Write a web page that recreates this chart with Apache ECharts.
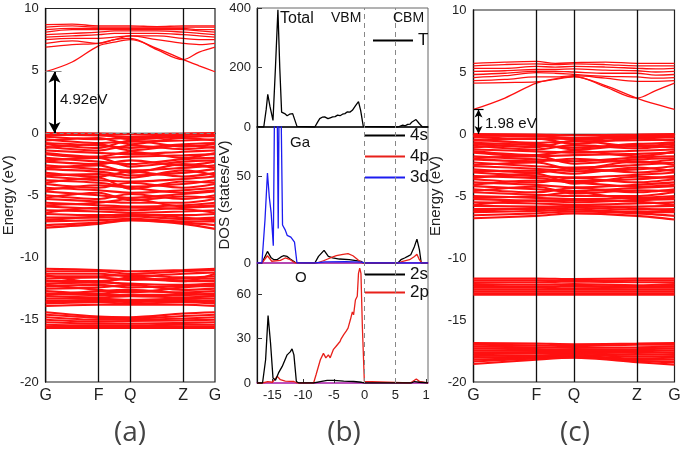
<!DOCTYPE html>
<html>
<head>
<meta charset="utf-8">
<script src="https://cdn.jsdelivr.net/npm/echarts@6/dist/echarts.min.js"></script>
<style>html,body{margin:0;padding:0;background:#fff}#chart{width:685px;height:452px}</style>
</head>
<body>
<div id="chart"></div>
<script>
// k path
const kNames = ['G', 'F', 'Q', 'Z', 'G'];
const kPos = [0, 1, 1.6, 2.6, 3.2];
const kFine = [0, 0.5, 1, 1.3, 1.6, 2.1, 2.6, 2.9, 3.2];

// (a) conduction bands, values at kFine
const cbA = [
  [4.92, 5.7, 7.0, 7.3, 7.5, 6.8, 5.9, 5.4, 4.92],
  [6.9, 7.1, 7.2, 7.5, 7.6, 6.7, 5.9, 6.5, 6.9],
  [7.2, 7.4, 7.2, 7.5, 7.8, 7.5, 7.2, 7.1, 7.2],
  [7.5, 7.6, 7.6, 7.7, 7.8, 7.8, 7.6, 7.5, 7.5],
  [7.7, 7.8, 7.9, 8.0, 8.0, 8.0, 7.9, 7.8, 7.7],
  [7.9, 8.0, 8.1, 8.2, 8.2, 8.2, 8.1, 8.0, 7.9],
  [8.1, 8.3, 8.3, 8.3, 8.3, 8.3, 8.3, 8.2, 8.1],
  [8.3, 8.4, 8.4, 8.4, 8.4, 8.4, 8.4, 8.3, 8.3],
  [8.5, 8.6, 8.5, 8.5, 8.5, 8.5, 8.5, 8.5, 8.5],
  [8.7, 8.75, 8.6, 8.6, 8.6, 8.55, 8.6, 8.6, 8.6]
];
// (a) valence bands, values at kPos
const vbA = [
  [0, -0.05, -0.1, -0.05, 0], [-0.1, -0.2, -0.3, -0.15, -0.1], [-0.3, -0.5, -0.4, -0.3, -0.25],
  [-0.5, -0.8, -0.7, -0.6, -0.5], [-0.8, -1.0, -1.2, -0.9, -0.8], [-1.1, -1.4, -1.0, -1.3, -1.1],
  [-1.4, -1.6, -1.7, -1.5, -1.4], [-1.7, -2.0, -1.9, -1.8, -1.7], [-2.0, -2.3, -2.5, -2.1, -2.0],
  [-2.3, -2.5, -2.2, -2.6, -2.3], [-2.6, -2.9, -3.0, -2.8, -2.6], [-2.9, -3.1, -3.4, -3.2, -2.9],
  [-3.2, -3.5, -3.1, -3.5, -3.2], [-3.5, -3.8, -3.9, -3.7, -3.5], [-3.8, -4.0, -4.3, -4.1, -3.8],
  [-4.1, -4.4, -4.0, -4.4, -4.1], [-4.4, -4.6, -4.8, -4.6, -4.4], [-4.7, -5.0, -5.2, -4.9, -4.7],
  [-5.0, -5.3, -4.9, -5.3, -5.0], [-5.3, -5.5, -5.6, -5.6, -5.3], [-5.6, -5.8, -5.9, -5.8, -5.6],
  [-5.9, -6.1, -6.2, -6.0, -5.9], [-6.2, -6.3, -6.4, -6.3, -6.2], [-6.5, -6.6, -6.6, -6.6, -6.5],
  [-6.8, -6.8, -6.7, -6.9, -6.8], [-7.1, -7.0, -6.9, -7.1, -7.1], [-7.4, -7.2, -7.0, -7.2, -7.4],
  [-7.6, -7.3, -7.0, -7.3, -7.7],
  [-0.2, -0.1, -0.5, -0.3, -0.2], [-0.6, -0.4, -0.9, -0.4, -0.6], [-0.9, -1.2, -0.6, -1.1, -0.9],
  [-1.2, -0.9, -1.4, -1.0, -1.2], [-1.6, -1.9, -1.5, -2.0, -1.6], [-2.2, -2.0, -2.7, -2.3, -2.2],
  [-2.8, -2.6, -3.2, -2.5, -2.8], [-3.4, -3.3, -3.6, -3.0, -3.4], [-4.0, -3.6, -4.5, -3.9, -4.0],
  [-4.6, -4.2, -4.4, -4.8, -4.6], [-5.2, -4.8, -5.4, -5.1, -5.2], [-5.8, -5.6, -5.3, -5.9, -5.8],
  [-6.4, -6.0, -6.0, -6.1, -6.4], [-7.0, -6.7, -6.5, -6.8, -7.0],
  // Ga 3d / O 2s region
  [-10.9, -11.0, -11.1, -11.0, -10.9], [-11.1, -11.1, -11.3, -11.1, -11.0], [-11.3, -11.3, -11.5, -11.3, -11.2],
  [-11.5, -11.5, -11.4, -11.6, -11.5], [-11.7, -11.6, -11.8, -11.7, -11.7], [-11.9, -11.9, -11.7, -11.9, -11.9],
  [-12.1, -12.0, -12.1, -12.2, -12.1], [-12.3, -12.2, -12.4, -12.3, -12.3], [-12.5, -12.4, -12.2, -12.6, -12.5],
  [-12.7, -12.9, -12.7, -12.8, -12.7], [-12.9, -13.0, -13.0, -13.0, -12.9], [-13.1, -13.2, -13.1, -13.2, -13.1],
  [-13.3, -13.3, -13.4, -13.3, -13.3], [-13.5, -13.5, -13.5, -13.5, -13.5], [-13.7, -13.6, -13.7, -13.6, -13.7],
  [-13.9, -13.8, -13.8, -13.8, -13.9], [-11.4, -12.0, -11.6, -11.9, -11.3], [-12.2, -12.6, -12.8, -12.4, -12.2],
  [-13.0, -12.7, -12.6, -12.9, -13.0], [-13.6, -13.4, -13.6, -13.4, -13.6],
  [-14.4, -14.75, -14.8, -14.5, -14.4], [-14.6, -14.85, -14.9, -14.7, -14.6], [-14.8, -15.0, -15.0, -14.9, -14.8],
  [-15.0, -15.15, -15.1, -15.05, -15.0], [-15.2, -15.3, -15.3, -15.25, -15.2], [-15.4, -15.45, -15.45, -15.4, -15.4],
  [-15.55, -15.55, -15.55, -15.55, -15.55], [-15.65, -15.65, -15.65, -15.65, -15.65]
];

// (c) conduction bands, values at kFine
const cbC = [
  [1.98, 2.9, 4.1, 4.4, 4.6, 3.9, 2.9, 2.4, 1.98],
  [4.1, 4.15, 4.2, 4.45, 4.65, 3.8, 2.9, 3.5, 4.1],
  [4.3, 4.4, 4.6, 4.6, 4.7, 4.5, 4.25, 4.25, 4.3],
  [4.55, 4.7, 4.95, 4.9, 4.8, 4.65, 4.6, 4.5, 4.55],
  [4.8, 4.9, 5.05, 5.05, 5.0, 4.9, 4.9, 4.75, 4.8],
  [5.05, 5.1, 5.2, 5.2, 5.25, 5.15, 5.1, 5.0, 5.05],
  [5.3, 5.3, 5.45, 5.4, 5.45, 5.4, 5.3, 5.25, 5.3],
  [5.5, 5.6, 5.65, 5.6, 5.65, 5.6, 5.5, 5.5, 5.5],
  [5.7, 5.8, 5.85, 5.7, 5.75, 5.8, 5.7, 5.7, 5.7]
];
// (c) valence bands, values at kPos
const vbC = [
  [0, -0.05, -0.1, -0.05, 0], [-0.1, -0.2, -0.3, -0.15, -0.1], [-0.25, -0.4, -0.35, -0.3, -0.25],
  [-0.45, -0.7, -0.6, -0.5, -0.45], [-0.7, -0.9, -1.1, -0.8, -0.7], [-0.95, -1.25, -0.9, -1.15, -0.95],
  [-1.25, -1.4, -1.5, -1.35, -1.25], [-1.5, -1.8, -1.7, -1.6, -1.5], [-1.8, -2.05, -2.2, -1.9, -1.8],
  [-2.05, -2.2, -2.0, -2.3, -2.05], [-2.3, -2.6, -2.7, -2.5, -2.3], [-2.6, -2.8, -3.0, -2.85, -2.6],
  [-2.85, -3.1, -2.75, -3.1, -2.85], [-3.1, -3.4, -3.5, -3.3, -3.1], [-3.4, -3.55, -3.8, -3.65, -3.4],
  [-3.65, -3.9, -3.55, -3.9, -3.65], [-3.9, -4.1, -4.3, -4.1, -3.9], [-4.2, -4.45, -4.6, -4.35, -4.2],
  [-4.45, -4.7, -4.35, -4.7, -4.45], [-4.7, -4.9, -5.0, -5.0, -4.7], [-5.0, -5.15, -5.25, -5.15, -5.0],
  [-5.25, -5.4, -5.5, -5.35, -5.25], [-5.5, -5.6, -5.7, -5.6, -5.5], [-5.8, -5.85, -5.85, -5.85, -5.8],
  [-6.05, -6.05, -5.95, -6.1, -6.05], [-6.3, -6.2, -6.1, -6.3, -6.3], [-6.55, -6.4, -6.25, -6.4, -6.6],
  [-6.8, -6.6, -6.4, -6.6, -6.9],
  [-0.15, -0.1, -0.45, -0.25, -0.15], [-0.55, -0.35, -0.8, -0.35, -0.55], [-0.8, -1.05, -0.55, -1.0, -0.8],
  [-1.1, -0.8, -1.25, -0.9, -1.1], [-1.4, -1.7, -1.35, -1.8, -1.4], [-1.95, -1.8, -2.4, -2.05, -1.95],
  [-2.5, -2.3, -2.85, -2.2, -2.5], [-3.0, -2.95, -3.2, -2.7, -3.0], [-3.55, -3.2, -4.0, -3.45, -3.55],
  [-4.1, -3.75, -3.9, -4.25, -4.1], [-4.6, -4.25, -4.8, -4.55, -4.6], [-5.15, -5.0, -4.7, -5.25, -5.15],
  [-5.7, -5.35, -5.35, -5.45, -5.7], [-6.2, -5.95, -5.8, -6.0, -6.2],
  [-11.65, -11.65, -11.7, -11.65, -11.65], [-11.8, -11.8, -11.85, -11.8, -11.8], [-11.95, -11.95, -11.9, -11.95, -11.95],
  [-12.1, -12.15, -12.1, -12.2, -12.1], [-12.25, -12.3, -12.25, -12.3, -12.25], [-12.4, -12.4, -12.45, -12.4, -12.4],
  [-12.55, -12.55, -12.55, -12.55, -12.55], [-12.7, -12.7, -12.7, -12.7, -12.7], [-12.85, -12.85, -12.85, -12.85, -12.85],
  [-12.95, -12.95, -12.95, -12.95, -12.95],
  [-16.85, -16.9, -16.95, -16.9, -16.85], [-17.0, -17.05, -17.1, -17.0, -17.0], [-17.15, -17.2, -17.25, -17.2, -17.15],
  [-17.3, -17.35, -17.4, -17.35, -17.3], [-17.45, -17.5, -17.5, -17.5, -17.45], [-17.6, -17.6, -17.6, -17.65, -17.6],
  [-17.75, -17.7, -17.7, -17.8, -17.75], [-17.9, -17.85, -17.8, -17.95, -17.9], [-18.05, -17.95, -17.9, -18.1, -18.05],
  [-18.2, -18.05, -17.95, -18.2, -18.2], [-18.35, -18.1, -18.0, -18.3, -18.4], [-18.55, -18.2, -18.05, -18.4, -18.6]
];

const gapA = 4.92;
const gapC = 1.98;
const vbm = 0;
const cbm = 4.92;

// (b) DOS curves, [energy, states/eV]
const dosTotal = [[-17.5,0],[-16.4,0],[-16.0,60],[-15.75,110],[-15.4,70],[-14.9,22],[-14.5,200],[-14.1,394],[-13.8,200],[-13.5,50],[-13.0,45],[-12.6,38],[-12.2,43],[-11.9,40],[-11.7,45],[-11.4,42],[-11.0,2],[-8.1,0],[-7.6,18],[-7.3,28],[-6.9,33],[-6.5,34],[-5.96,28],[-5.6,31],[-5.2,34],[-4.8,35],[-4.4,40],[-4.0,38],[-3.6,43],[-3.2,45],[-2.8,51],[-2.4,50],[-2.0,56],[-1.7,62],[-1.45,73],[-1.0,85],[-0.65,56],[-0.22,2],[0,0],[5.4,0],[6.2,6],[6.6,4],[7.0,9],[7.4,10],[7.7,17],[8.35,25],[8.9,11],[9.4,0],[10.3,0]];
const dosGa4s = [[-17.5,0],[-16.7,0],[-15.8,6.7],[-15.2,3],[-14.8,2],[-14.2,2],[-13.6,3.5],[-13.2,4.2],[-12.6,3.8],[-12.1,2.3],[-11.3,0.4],[-11.0,0],[-8.1,0],[-7.5,3.8],[-6.6,7.3],[-5.9,3.8],[-5.2,2.9],[-4.1,2.3],[-2.5,1.9],[-0.6,1],[-0.2,0],[5.4,0],[5.9,1.9],[6.5,2.9],[7.0,3.8],[7.5,4.8],[8.1,9.6],[8.5,13.8],[8.9,7.7],[9.2,0],[10.3,0]];
const dosGa4p = [[-17.5,0],[-16.7,0],[-15.8,4.2],[-15.1,1],[-13.7,1.5],[-12.9,2.9],[-12.1,1.9],[-11.3,0],[-7.8,0],[-6.7,1.3],[-5.6,2.9],[-4.6,4.2],[-3.5,5],[-2.7,5.4],[-1.9,4.2],[-1.1,1.9],[-0.4,0],[5.4,0],[6.2,1],[7.3,1.9],[8.1,3.8],[8.5,5],[8.9,1.9],[9.3,0],[10.3,0]];
const dosGa3d = [[-17.5,0],[-16.7,0],[-16.2,25],[-15.8,52],[-15.5,38],[-15.2,29],[-14.85,10],[-14.55,130],[-14.3,125],[-14.05,20],[-13.8,150],[-13.55,150],[-13.35,22],[-12.9,19],[-12.6,16],[-12.3,17],[-12.0,15],[-11.7,16],[-11.4,12],[-11.0,0],[-8,0],[-6.5,0.6],[-3,0.8],[-0.5,0.5],[0,0],[10.3,0]];
const dosO2s = [[-17.5,0],[-16.6,0],[-16.1,15.7],[-15.7,45.5],[-15.3,27],[-14.9,3.4],[-14.5,1.8],[-14.0,6.8],[-13.4,11.2],[-12.6,19],[-12.1,21],[-11.8,23],[-11.5,19],[-11.1,1],[-10.7,0],[-8.3,0],[-7.2,1],[-6.1,1.8],[-5.0,1.8],[-3.4,1.3],[-1.8,1],[-0.5,0.5],[0,0],[7.6,0],[8.1,1],[8.4,1.8],[8.9,0.5],[9.2,0],[10.3,0]];
const dosO2p = [[-17.5,0],[-16.6,0],[-15.75,1],[-15.0,0.5],[-14.2,4.5],[-13.7,2.2],[-12.9,1.3],[-11.5,1],[-11.0,0],[-8.3,0],[-7.9,5.6],[-7.2,15.7],[-6.7,20],[-6.3,17],[-5.9,19],[-5.6,17],[-5.1,22.5],[-4.6,25],[-4.0,28],[-3.8,30],[-3.4,32.6],[-3.0,35],[-2.7,37],[-2.3,43],[-2.0,48],[-1.8,46],[-1.5,56],[-1.2,58.5],[-1.0,74],[-0.8,77.6],[-0.6,74],[-0.37,38],[-0.05,1],[0,0],[7.4,0],[7.8,1],[8.4,2.7],[8.9,1.1],[9.2,0],[10.3,0]];

const RED = '#ff1010';
const FONT = 'Liberation Sans';

function bandSeries(bands, ks, axis, smooth, width) {
  return bands.map(function (b) {
    return {
      type: 'line', xAxisIndex: axis, yAxisIndex: axis, silent: true, z: 2,
      symbol: 'none', smooth: smooth,
      lineStyle: { color: RED, width: width },
      data: b.map(function (e, i) { return [ks[i], e]; })
    };
  });
}

function dosSeries(name, data, color, axis) {
  return {
    name: name, type: 'line', xAxisIndex: axis, yAxisIndex: axis, z: 3,
    symbol: 'none', lineStyle: { color: color, width: 1.3 }, itemStyle: { color: color },
    data: data
  };
}

// vertical k-point lines
function kLines(axis) {
  return {
    type: 'line', xAxisIndex: axis, yAxisIndex: axis, data: [], z: 6, silent: true,
    markLine: {
      silent: true, symbol: ['none', 'none'], label: { show: false }, animation: false,
      lineStyle: { color: '#111', type: 'solid', width: 1.3 },
      data: kPos.slice(1, 4).map(function (k) { return { xAxis: k }; })
    }
  };
}

function edgeLines(axis) {
  return {
    type: 'line', xAxisIndex: axis, yAxisIndex: axis, data: [], z: 1, silent: true,
    markLine: {
      silent: true, symbol: ['none', 'none'], label: { show: false }, animation: false,
      lineStyle: { color: '#888', type: [5, 4], width: 1 },
      data: [{ xAxis: vbm }, { xAxis: cbm }]
    }
  };
}

function gapArrow(axis, x, gap, w, size) {
  return {
    type: 'line', xAxisIndex: axis, yAxisIndex: axis, data: [], z: 7, silent: true,
    markLine: {
      silent: true, label: { show: false }, animation: false,
      symbol: ['arrow', 'arrow'], symbolSize: size,
      lineStyle: { color: '#000', type: 'solid', width: w },
      data: [[{ coord: [x, 0] }, { coord: [x, gap] }]]
    }
  };
}

const axText = { fontFamily: FONT, fontSize: 13, color: '#222' };

function bandX(axis) {
  return {
    type: 'value', gridIndex: axis, min: 0, max: 3.2,
    axisLine: { show: true, lineStyle: { color: '#111', width: 1.3 } },
    axisTick: { show: false }, splitLine: { show: false },
    axisLabel: Object.assign({}, axText, {
      fontSize: 16, margin: 6, customValues: kPos,
      formatter: function (v) { return kNames[kPos.indexOf(v)]; }
    })
  };
}
function bandY(axis, gap) {
  return {
    type: 'value', gridIndex: axis, min: -20, max: 10, interval: 5,
    name: 'Energy (eV)', nameLocation: 'middle', nameGap: gap,
    nameTextStyle: { fontFamily: FONT, fontSize: 15, color: '#222' },
    axisLine: { show: true, lineStyle: { color: '#111', width: 1.3 } },
    axisTick: { show: false }, splitLine: { show: false },
    axisLabel: Object.assign({}, axText, { margin: 7 })
  };
}
function dosX(axis, labels, lineColor) {
  return {
    type: 'value', gridIndex: axis, min: -17.5, max: 10.3,
    axisLine: { show: true, onZero: false, lineStyle: { color: lineColor, width: 1.5 } },
    axisTick: { show: labels, inside: true, length: 4, customValues: [-15, -10, -5, 0, 5, 10], lineStyle: { color: '#333' } },
    splitLine: { show: false },
    axisLabel: Object.assign({}, axText, {
      show: labels, margin: 6, customValues: [-15, -10, -5, 0, 5, 10],
      formatter: function (v) { return v === 10 ? '1' : String(v); }
    })
  };
}
function dosY(axis, max, ticks, name) {
  const y = {
    type: 'value', gridIndex: axis, min: 0, max: max,
    axisLine: { show: true, onZero: false, lineStyle: { color: '#111', width: 1.2 } },
    axisTick: { show: true, inside: true, length: 5, customValues: ticks, lineStyle: { color: '#333' } },
    splitLine: { show: false },
    axisLabel: Object.assign({}, axText, { margin: 6, customValues: ticks })
  };
  if (name) {
    y.name = name; y.nameLocation = 'middle'; y.nameGap = 24;
    y.nameTextStyle = { fontFamily: FONT, fontSize: 15, color: '#222' };
  }
  return y;
}

let series = [];
series = series.concat(bandSeries(cbA, kFine, 0, 0.35, 1.3));
series = series.concat(bandSeries(vbA, kPos, 0, 0.3, 2.1));
series.push(kLines(0));
series.push(gapArrow(0, 0.167, gapA, 2, [9, 11]));
series.push({
  type: 'line', xAxisIndex: 0, yAxisIndex: 0, data: [], z: 6, silent: true,
  markLine: {
    silent: true, symbol: ['none', 'none'], label: { show: false }, animation: false,
    data: [
      [{ coord: [0, gapA], lineStyle: { color: '#888', type: 'solid', width: 1 } }, { coord: [0.3, gapA] }],
      [{ coord: [0, 0], lineStyle: { color: '#888', type: [4, 3], width: 1 } }, { coord: [3.2, 0] }]
    ]
  }
});

series.push(dosSeries('T', dosTotal, '#000', 1));
series.push(edgeLines(1));
series.push(dosSeries('4s', dosGa4s, '#000', 2));
series.push(dosSeries('4p', dosGa4p, '#e8201a', 2));
series.push(dosSeries('3d', dosGa3d, '#1c1cf0', 2));
series.push(edgeLines(2));
series.push(dosSeries('2p', dosO2p, '#e8201a', 3));
series.push(dosSeries('2s', dosO2s, '#000', 3));
series.push(edgeLines(3));

series = series.concat(bandSeries(cbC, kFine, 4, 0.35, 1.3));
series = series.concat(bandSeries(vbC, kPos, 4, 0.3, 2.1));
series.push(kLines(4));
series.push(gapArrow(4, 0.08, gapC, 1.2, [6, 8]));
series.push({
  type: 'line', xAxisIndex: 4, yAxisIndex: 4, data: [], z: 7, silent: true,
  markLine: {
    silent: true, symbol: ['none', 'none'], label: { show: false }, animation: false,
    lineStyle: { color: '#000', type: 'solid', width: 1.2 },
    data: [[{ coord: [0, gapC] }, { coord: [0.16, gapC] }]]
  }
});

const legendText = { fontFamily: FONT, fontSize: 17, color: '#111' };
const legendBase = { orient: 'vertical', icon: 'rect', itemWidth: 40, itemHeight: 2, padding: 0, selectedMode: false, textStyle: legendText };
const frame = { show: true, borderColor: '#222', borderWidth: 1.2, backgroundColor: 'transparent' };
const frameB = { show: true, borderColor: '#666', borderWidth: 1, backgroundColor: 'transparent' };

const option = {
  backgroundColor: '#fff',
  animation: false,
  grid: [
    Object.assign({ left: 43, top: 8.5, width: 172, height: 373.5 }, frame),
    Object.assign({ left: 257, top: 8, width: 171, height: 119 }, frameB),
    Object.assign({ left: 257, top: 127, width: 171, height: 136 }, frameB),
    Object.assign({ left: 257, top: 263, width: 171, height: 120 }, frameB),
    Object.assign({ left: 473.5, top: 10, width: 201, height: 372 }, frame)
  ],
  xAxis: [bandX(0), dosX(1, false, '#111'), dosX(2, false, '#c030c0'), dosX(3, true, '#c030c0'), bandX(4)],
  yAxis: [
    bandY(0, 26),
    dosY(1, 400, [0, 200, 400]),
    dosY(2, 78.6, [0, 50], 'DOS (states/eV)'),
    dosY(3, 81, [0, 30, 60]),
    bandY(4, 20)
  ],
  legend: [
    Object.assign({ data: ['T'], left: 373, top: 32 }, legendBase),
    Object.assign({ data: ['4s', '4p', '3d'], left: 365, top: 127, itemGap: 4 }, legendBase),
    Object.assign({ data: ['2s', '2p'], left: 365, top: 266, itemGap: 1 }, legendBase)
  ],
  graphic: [
    { type: 'text', left: 60, top: 92, z: 20, style: { text: '4.92eV', font: '15px "Liberation Sans"', fill: '#111' } },
    { type: 'text', left: 485, top: 116, z: 20, style: { text: '1.98 eV', font: '15px "Liberation Sans"', fill: '#111' } },
    { type: 'text', left: 280, top: 11, z: 20, style: { text: 'Total', font: '16px "Liberation Sans"', fill: '#111' } },
    { type: 'text', left: 331, top: 11, z: 20, style: { text: 'VBM', font: '14px "Liberation Sans"', fill: '#111' } },
    { type: 'text', left: 393, top: 11, z: 20, style: { text: 'CBM', font: '14px "Liberation Sans"', fill: '#111' } },
    { type: 'text', left: 290, top: 135, z: 20, style: { text: 'Ga', font: '15px "Liberation Sans"', fill: '#111' } },
    { type: 'text', left: 295, top: 270, z: 20, style: { text: 'O', font: '15px "Liberation Sans"', fill: '#111' } },
    { type: 'text', x: 130, y: 433, z: 20, style: { text: '(a)', font: '28px "Open Sans"', fill: '#444', align: 'center', verticalAlign: 'middle' } },
    { type: 'text', x: 344, y: 433, z: 20, style: { text: '(b)', font: '28px "Open Sans"', fill: '#444', align: 'center', verticalAlign: 'middle' } },
    { type: 'text', x: 575, y: 433, z: 20, style: { text: '(c)', font: '28px "Open Sans"', fill: '#444', align: 'center', verticalAlign: 'middle' } }
  ],
  series: series
};

const chart = echarts.init(document.getElementById('chart'), null, { renderer: 'canvas' });
chart.setOption(option);
</script>
</body>
</html>
